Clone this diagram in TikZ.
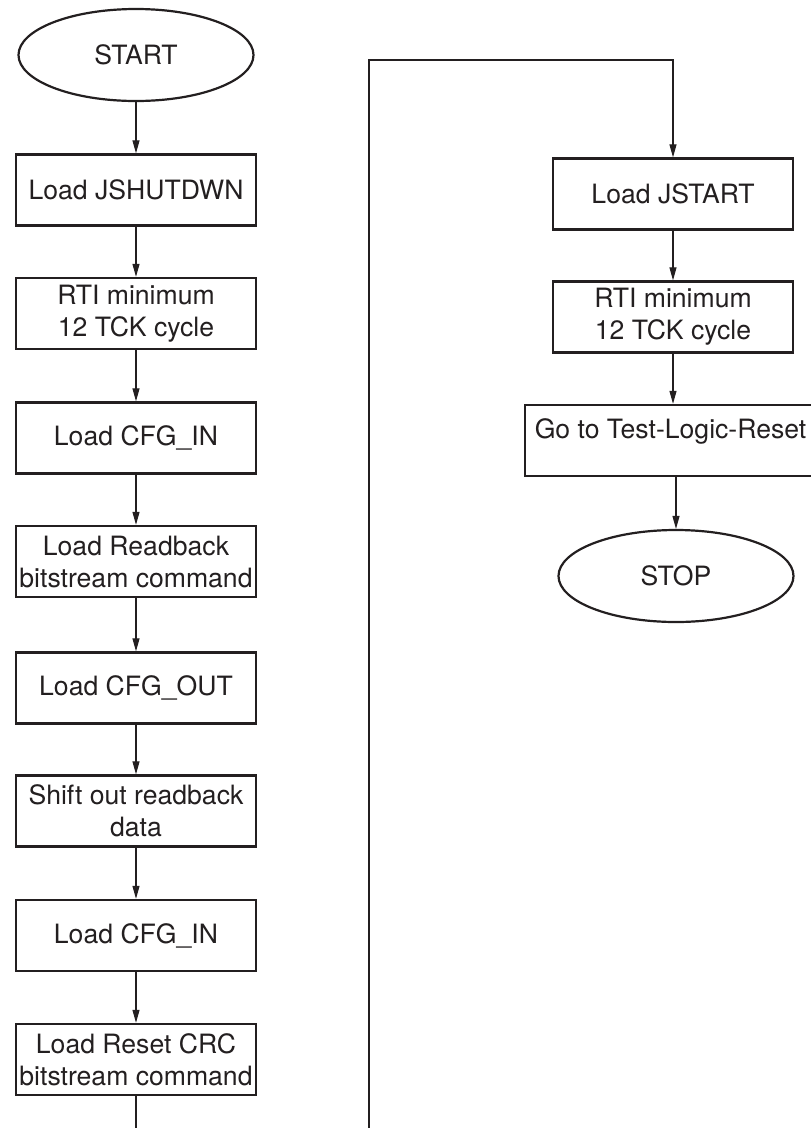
\documentclass[tikz,border=0pt]{standalone}
\usepackage{fontspec}
\setmainfont{TeX Gyre Heros}
\usetikzlibrary{arrows.meta,shapes.geometric}
\definecolor{ink}{RGB}{35,31,32}
\begin{document}
\begin{tikzpicture}[x=1pt,y=-1pt,
  label font/.style={font=\fontsize{26.6}{32}\selectfont,text=ink},
  stepbox/.style={draw=ink,line width=2.3pt,minimum width=240pt,minimum height=71pt,
    inner sep=0pt,align=center,label font,fill=white},
  term/.style={ellipse,draw=ink,line width=2.2pt,minimum width=235pt,minimum height=92pt,
    inner sep=0pt,label font},
  arr/.style={draw=ink,line width=1.2pt,-{Triangle[length=13pt,width=7pt]}}]
\useasboundingbox (0,0) rectangle (811,1128);
\clip (0,0) rectangle (811,1128);

% left column
\node[term]    (start) at (136,55)     {START};
\node[stepbox] (b1) at (136,190)   {Load JSHUTDWN};
\node[stepbox] (b2) at (136,313.5) {RTI minimum\\12 TCK cycle};
\node[stepbox] (b3) at (136,438)   {Load CFG\_IN};
\node[stepbox] (b4) at (136,561.5) {Load Readback\\bitstream command};
\node[stepbox] (b5) at (136,688)   {Load CFG\_OUT};
\node[stepbox] (b6) at (136,811)   {Shift out readback\\data};
\node[stepbox] (b7) at (136,935.5) {Load CFG\_IN};
\node[stepbox] (b8) at (136,1059.5){Load Reset CRC\\bitstream command};

% right column
\node[stepbox] (c1) at (673,194)  {Load JSTART};
\node[stepbox] (c2) at (673,317)  {RTI minimum\\12 TCK cycle};
\node[stepbox,minimum width=291pt,align=none,text height=19pt,text depth=24pt]
  (c3) at (670.5,440.5) {Go to Test-Logic-Reset};
\node[term]    (stop) at (676,576) {STOP};

% left column connectors
\draw[arr] (start) -- (b1);
\draw[arr] (b1) -- (b2);
\draw[arr] (b2) -- (b3);
\draw[arr] (b3) -- (b4);
\draw[arr] (b4) -- (b5);
\draw[arr] (b5) -- (b6);
\draw[arr] (b6) -- (b7);
\draw[arr] (b7) -- (b8);

% return path from the bottom of the left column to the right column
\coordinate (low) at (369,1140);
\coordinate (high) at (369,60);
\draw[arr] (b8.south) -- (b8.south |- low) -- (low) -- (high) -- (high -| c1.north) -- (c1.north);

% right column connectors
\draw[arr] (c1) -- (c2);
\draw[arr] (c2.south) -- (c2.south |- c3.north);
\draw[arr] (c3.south -| stop.north) -- (stop.north);
\end{tikzpicture}
\end{document}
